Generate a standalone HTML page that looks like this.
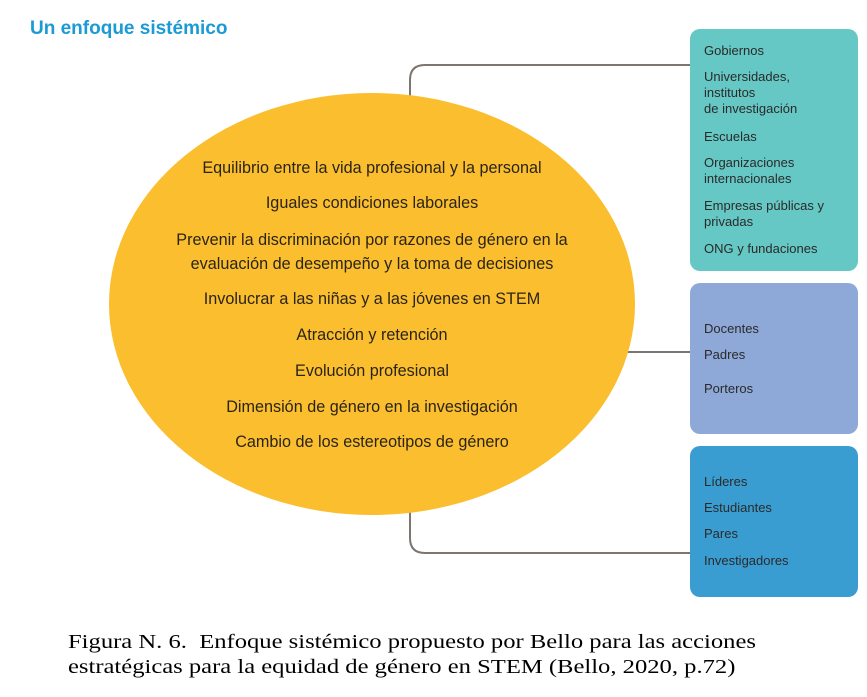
<!DOCTYPE html>
<html><head><meta charset="utf-8"><style>
body{margin:0;width:867px;height:697px;background:#fff;position:relative;overflow:hidden;font-family:"Liberation Sans","DejaVu Sans",sans-serif}
.t{position:absolute;white-space:nowrap}
.box{position:absolute;left:690px;width:168px;border-radius:10px}
.box div{position:absolute;left:14px;font-size:13px;color:#2a2a2a;line-height:16px}
.e{position:absolute;left:0;width:744px;text-align:center;font-size:16.2px;color:#2a2418}
</style></head><body>
<div class="t" style="left:30px;top:18px;font-size:19px;font-weight:bold;color:#1b9ad6">Un enfoque sistémico</div>
<svg style="position:absolute;left:0;top:0" width="867" height="697">
<path d="M410 100 V80 Q410 65 425 65 H690" fill="none" stroke="#7d7570" stroke-width="2"/>
<path d="M410 505 V538 Q410 553 425 553 H690" fill="none" stroke="#7d7570" stroke-width="2"/>
<path d="M620 352 H690" fill="none" stroke="#7d7570" stroke-width="2"/>
<ellipse cx="372" cy="304" rx="263" ry="211" fill="#fbbe2e"/>
</svg>
<div class="e" style="top:159px">Equilibrio entre la vida profesional y la personal</div>
<div class="e" style="top:194px">Iguales condiciones laborales</div>
<div class="e" style="top:231px">Prevenir la discriminación por razones de género en la</div>
<div class="e" style="top:255px">evaluación de desempeño y la toma de decisiones</div>
<div class="e" style="top:290px">Involucrar a las niñas y a las jóvenes en STEM</div>
<div class="e" style="top:326px">Atracción y retención</div>
<div class="e" style="top:362px">Evolución profesional</div>
<div class="e" style="top:398px">Dimensión de género en la investigación</div>
<div class="e" style="top:433px">Cambio de los estereotipos de género</div>
<div class="box" style="top:29px;height:242px;background:#66c8c4">
<div style="top:14px">Gobiernos</div>
<div style="top:40px">Universidades,<br>institutos<br>de investigación</div>
<div style="top:100px">Escuelas</div>
<div style="top:126px">Organizaciones<br>internacionales</div>
<div style="top:169px">Empresas públicas y<br>privadas</div>
<div style="top:212px">ONG y fundaciones</div>
</div>
<div class="box" style="top:283px;height:151px;background:#8ea9d8">
<div style="top:38px">Docentes</div>
<div style="top:64px">Padres</div>
<div style="top:98px">Porteros</div>
</div>
<div class="box" style="top:446px;height:151px;background:#3a9dd2">
<div style="top:28px">Líderes</div>
<div style="top:54px">Estudiantes</div>
<div style="top:80px">Pares</div>
<div style="top:107px">Investigadores</div>
</div>
<div class="t" style="left:68px;top:630px;font-family:'Liberation Serif',serif;font-size:20.5px;line-height:25px;color:#000;transform-origin:0 0;transform:scaleX(1.2)">Figura N. 6.&nbsp; Enfoque sistémico propuesto por Bello para las acciones<br>estratégicas para la equidad de género en STEM (Bello, 2020, p.72)</div>
</body></html>
